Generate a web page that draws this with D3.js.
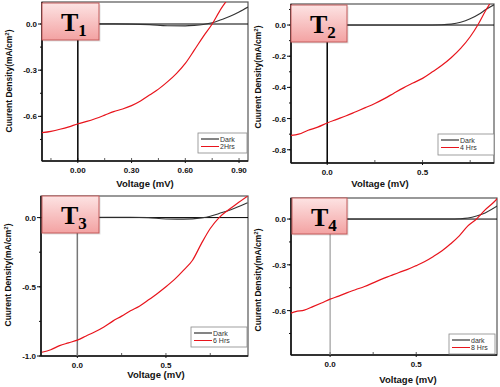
<!DOCTYPE html>
<meta charset="utf-8">
<style>
body { margin: 0; background: #fff; }
svg text { font-family: "Liberation Sans", Arial, sans-serif; }
.tk { font-size: 8px; font-weight: bold; fill: #111; }
.ax { font-size: 9.5px; font-weight: bold; fill: #111; }
.yax { font-size: 8.5px; font-weight: bold; fill: #111; }
.lg { font-size: 7px; fill: #333; }
</style>
<body>
<script src="https://d3js.org/d3.v7.min.js"></script>
<script>

// J-V readings (voltage mV, current density mA/cm2)
var t1Light = [[-0.2,-0.706],[-0.15,-0.697],[-0.1,-0.684],[-0.05,-0.668],[0,-0.648],[0.05,-0.633],[0.1,-0.614],[0.15,-0.592],[0.2,-0.569],[0.25,-0.552],[0.3,-0.53],[0.35,-0.5],[0.4,-0.462],[0.45,-0.423],[0.5,-0.376],[0.55,-0.322],[0.6,-0.256],[0.65,-0.17],[0.7,-0.082],[0.75,0.0],[0.8,0.1],[0.83,0.15]];
var t1Dark = [[-0.2,0],[0.2,0.001],[0.4,-0.004],[0.5,-0.011],[0.6,-0.012],[0.65,-0.009],[0.7,-0.003],[0.75,0.008],[0.8,0.028],[0.85,0.05],[0.9,0.078],[0.95,0.11]];

var t2Light = [[-0.19,-0.708],[-0.15,-0.7],[-0.1,-0.675],[-0.05,-0.655],[0,-0.628],[0.05,-0.605],[0.1,-0.582],[0.15,-0.556],[0.2,-0.53],[0.25,-0.503],[0.3,-0.472],[0.35,-0.437],[0.4,-0.403],[0.45,-0.372],[0.5,-0.342],[0.55,-0.302],[0.6,-0.26],[0.65,-0.21],[0.7,-0.15],[0.75,-0.075],[0.79,0.0],[0.83,0.09],[0.86,0.15]];
var t2Dark = [[-0.19,0],[0.5,0],[0.6,0.002],[0.65,0.006],[0.7,0.018],[0.75,0.04],[0.8,0.072],[0.83,0.098],[0.875,0.13]];

var t3Light = [[-0.2,-0.973],[-0.15,-0.955],[-0.1,-0.925],[-0.05,-0.905],[0,-0.885],[0.05,-0.855],[0.1,-0.825],[0.15,-0.79],[0.2,-0.748],[0.25,-0.712],[0.3,-0.673],[0.35,-0.64],[0.4,-0.596],[0.45,-0.55],[0.5,-0.5],[0.55,-0.445],[0.6,-0.38],[0.65,-0.308],[0.7,-0.188],[0.75,-0.079],[0.8,0.0],[0.85,0.053],[0.9,0.1],[0.96,0.154]];
var t3Dark = [[-0.2,0],[0.3,0.003],[0.4,0],[0.5,-0.01],[0.6,-0.011],[0.7,-0.002],[0.75,0.01],[0.8,0.03],[0.85,0.05],[0.9,0.075],[0.96,0.108]];

var t4Light = [[-0.227,-0.617],[-0.2,-0.607],[-0.15,-0.597],[-0.1,-0.574],[-0.05,-0.55],[0,-0.525],[0.05,-0.505],[0.1,-0.482],[0.15,-0.462],[0.2,-0.442],[0.25,-0.418],[0.3,-0.394],[0.35,-0.372],[0.4,-0.35],[0.45,-0.33],[0.5,-0.305],[0.55,-0.278],[0.6,-0.245],[0.65,-0.208],[0.7,-0.162],[0.75,-0.11],[0.8,-0.045],[0.85,0.0],[0.9,0.06],[0.95,0.11],[0.975,0.14]];
var t4Dark = [[-0.227,0],[0.7,0],[0.75,0.002],[0.8,0.007],[0.85,0.02],[0.9,0.04],[0.97,0.085]];

// tick values
var t1XTicks = [0, 0.3, 0.6, 0.9], t1YTicks = [0, -0.3, -0.6];
var t2XTicks = [0, 0.5], t2YTicks = [0, -0.2, -0.4, -0.6, -0.8];
var t3XTicks = [0, 0.5], t3YTicks = [0, -0.5, -1.0];
var t4XTicks = [0, 0.5], t4YTicks = [0, -0.3, -0.6];

var legendNames = [["Dark", "2Hrs"], ["Dark", "4 Hrs"], ["Dark", "6 Hrs"], ["dark", "8 Hrs"]];
var tagSubs = ["1", "2", "3", "4"];

var panels = [
  {light: t1Light, dark: t1Dark, xt: t1XTicks, yt: t1YTicks, xd: 2, xStep: 0.15, yStep: 0.15,
   L: 42, R: 248, T: 2, B: 161, xDom: [-0.2, 0.95], yDom: [-0.89, 0.143],
   vCol: "#000", vW: 1.5, tag: [42, 3, 57, 37], leg: [198, 133, 49, 20], xl: [145, 187], yl: [9, 81]},
  {light: t2Light, dark: t2Dark, xt: t2XTicks, yt: t2YTicks, xd: 1, xStep: 0.25, yStep: 0.1,
   L: 291, R: 494, T: 4, B: 163, xDom: [-0.19, 0.875], yDom: [-0.885, 0.135],
   vCol: "#000", vW: 1.5, tag: [291, 5, 56, 37], leg: [438, 134, 56, 21], xl: [380, 187], yl: [258, 77]},
  {light: t3Light, dark: t3Dark, xt: t3XTicks, yt: t3YTicks, xd: 1, xStep: 0.25, yStep: 0.25,
   L: 41, R: 248, T: 196, B: 356, xDom: [-0.205, 0.963], yDom: [-1.0, 0.156],
   vCol: "#777", vW: 1.5, tag: [42, 196, 57, 37], leg: [191, 327, 56, 20], xl: [156, 378], yl: [8, 275]},
  {light: t4Light, dark: t4Dark, xt: t4XTicks, yt: t4YTicks, xd: 1, xStep: 0.25, yStep: 0.15,
   L: 291, R: 497, T: 198, B: 355, xDom: [-0.227, 0.969], yDom: [-0.891, 0.138],
   vCol: "#888", vW: 1, tag: [292, 198, 55, 36], leg: [449, 334, 46, 20], xl: [408, 383], yl: [258, 280]}
];

var svg = d3.select("body").append("svg")
  .attr("width", 500).attr("height", 387);

var defs = svg.append("defs");
var grad = defs.append("linearGradient").attr("id", "tagfill")
  .attr("x1", 0).attr("y1", 0).attr("x2", 0).attr("y2", 1);
grad.append("stop").attr("offset", "0%").attr("stop-color", "#fde3e3");
grad.append("stop").attr("offset", "100%").attr("stop-color", "#f3a2a2");

panels.forEach(function(p, i) {
  var x = d3.scaleLinear().domain(p.xDom).range([p.L, p.R]);
  var y = d3.scaleLinear().domain(p.yDom).range([p.B, p.T]);
  var g = svg.append("g");

  defs.append("clipPath").attr("id", "clip" + i)
    .append("rect").attr("x", p.L).attr("y", p.T)
    .attr("width", p.R - p.L).attr("height", p.B - p.T);

  // frame
  g.append("rect").attr("x", p.L).attr("y", p.T)
    .attr("width", p.R - p.L).attr("height", p.B - p.T)
    .attr("fill", "none").attr("stroke", "#555").attr("stroke-width", 1.2);
  g.append("line").attr("x1", p.L).attr("x2", p.L).attr("y1", p.T).attr("y2", p.B)
    .attr("stroke", "#111").attr("stroke-width", 1.6);
  g.append("line").attr("x1", p.L).attr("x2", p.R).attr("y1", p.B).attr("y2", p.B)
    .attr("stroke", "#111").attr("stroke-width", 1.6);

  // y ticks (outside), minor between
  var yMinor = d3.range(p.yDom[1] - (p.yDom[1] % p.yStep), p.yDom[0] - 1e-9, -p.yStep)
    .filter(function(v) { return v >= p.yDom[0] - 1e-9 && v <= p.yDom[1]; });
  yMinor.forEach(function(v) {
    g.append("line").attr("x1", p.L - 2).attr("x2", p.L).attr("y1", y(v)).attr("y2", y(v))
      .attr("stroke", "#111").attr("stroke-width", 1);
  });
  p.yt.forEach(function(v) {
    g.append("line").attr("x1", p.L - 4).attr("x2", p.L).attr("y1", y(v)).attr("y2", y(v))
      .attr("stroke", "#111").attr("stroke-width", 1);
    g.append("text").attr("class", "tk").attr("text-anchor", "end")
      .attr("x", p.L - 5).attr("y", y(v) + 3)
      .text(v.toFixed(1));
  });

  // x ticks (inside)
  var xMinor = d3.range(Math.ceil(p.xDom[0] / p.xStep) * p.xStep, p.xDom[1], p.xStep);
  xMinor.forEach(function(v) {
    g.append("line").attr("x1", x(v)).attr("x2", x(v)).attr("y1", p.B).attr("y2", p.B - 3)
      .attr("stroke", "#333").attr("stroke-width", 0.8);
  });
  p.xt.forEach(function(v) {
    g.append("line").attr("x1", x(v)).attr("x2", x(v)).attr("y1", p.B).attr("y2", p.B + 2)
      .attr("stroke", "#111").attr("stroke-width", 1);
    g.append("text").attr("class", "tk").attr("text-anchor", "middle")
      .attr("x", x(v)).attr("y", p.B + 12)
      .text(v.toFixed(p.xd));
  });

  // zero reference lines
  g.append("line").attr("x1", p.L).attr("x2", p.R).attr("y1", y(0)).attr("y2", y(0))
    .attr("stroke", "#000").attr("stroke-width", 1);
  g.append("line").attr("x1", x(0)).attr("x2", x(0)).attr("y1", y(0)).attr("y2", p.B)
    .attr("stroke", p.vCol).attr("stroke-width", p.vW);

  var line = d3.line()
    .x(function(d) { return x(d[0]); })
    .y(function(d) { return y(d[1]); })
    .curve(d3.curveMonotoneX);

  var plot = g.append("g").attr("clip-path", "url(#clip" + i + ")");
  plot.append("path").datum(p.dark).attr("d", line)
    .attr("fill", "none").attr("stroke", "#333").attr("stroke-width", 1.1);
  plot.append("path").datum(p.light).attr("d", line)
    .attr("fill", "none").attr("stroke", "#e8141c").attr("stroke-width", 1.2);

  // legend
  var lg = g.append("g").attr("transform", "translate(" + p.leg[0] + "," + p.leg[1] + ")");
  lg.append("rect").attr("width", p.leg[2]).attr("height", p.leg[3])
    .attr("fill", "#fff").attr("stroke", "#888").attr("stroke-width", 0.8);
  [["#777", 1.8], ["#e8141c", 1]].forEach(function(s, k) {
    var yy = 6 + k * 7.5;
    lg.append("line").attr("x1", 3).attr("x2", 21).attr("y1", yy).attr("y2", yy)
      .attr("stroke", s[0]).attr("stroke-width", s[1]);
    lg.append("text").attr("class", "lg").attr("x", 22).attr("y", yy + 2.5)
      .text(legendNames[i][k]);
  });

  // axis titles
  g.append("text").attr("class", "ax").attr("text-anchor", "middle")
    .attr("x", p.xl[0]).attr("y", p.xl[1]).text("Voltage (mV)");
  var yt = g.append("text").attr("class", "yax").attr("text-anchor", "middle")
    .attr("transform", "translate(" + (p.yl[0] + 3) + "," + p.yl[1] + ") rotate(-90)");
  yt.append("tspan").text("Cuurent Density(mA/cm");
  yt.append("tspan").attr("dy", -3).style("font-size", "6px").text("2");
  yt.append("tspan").attr("dy", 3).text(")");

  // tag box
  var t = p.tag;
  g.append("rect").attr("x", t[0] + 1.5).attr("y", t[1] + 1.5).attr("width", t[2]).attr("height", t[3])
    .attr("fill", "#000").attr("opacity", 0.12);
  g.append("rect").attr("x", t[0]).attr("y", t[1]).attr("width", t[2]).attr("height", t[3])
    .attr("fill", "url(#tagfill)").attr("stroke", "#c45a5a").attr("stroke-width", 1);
  var tt = g.append("text").attr("x", t[0] + 19).attr("y", t[1] + 28)
    .style("font-family", "'Liberation Serif', 'Times New Roman', serif")
    .style("font-weight", "bold").style("font-size", "26px").attr("fill", "#000");
  tt.append("tspan").text("T");
  tt.append("tspan").attr("dy", 5).style("font-size", "17px").text(tagSubs[i]);
});

</script>
</body>
